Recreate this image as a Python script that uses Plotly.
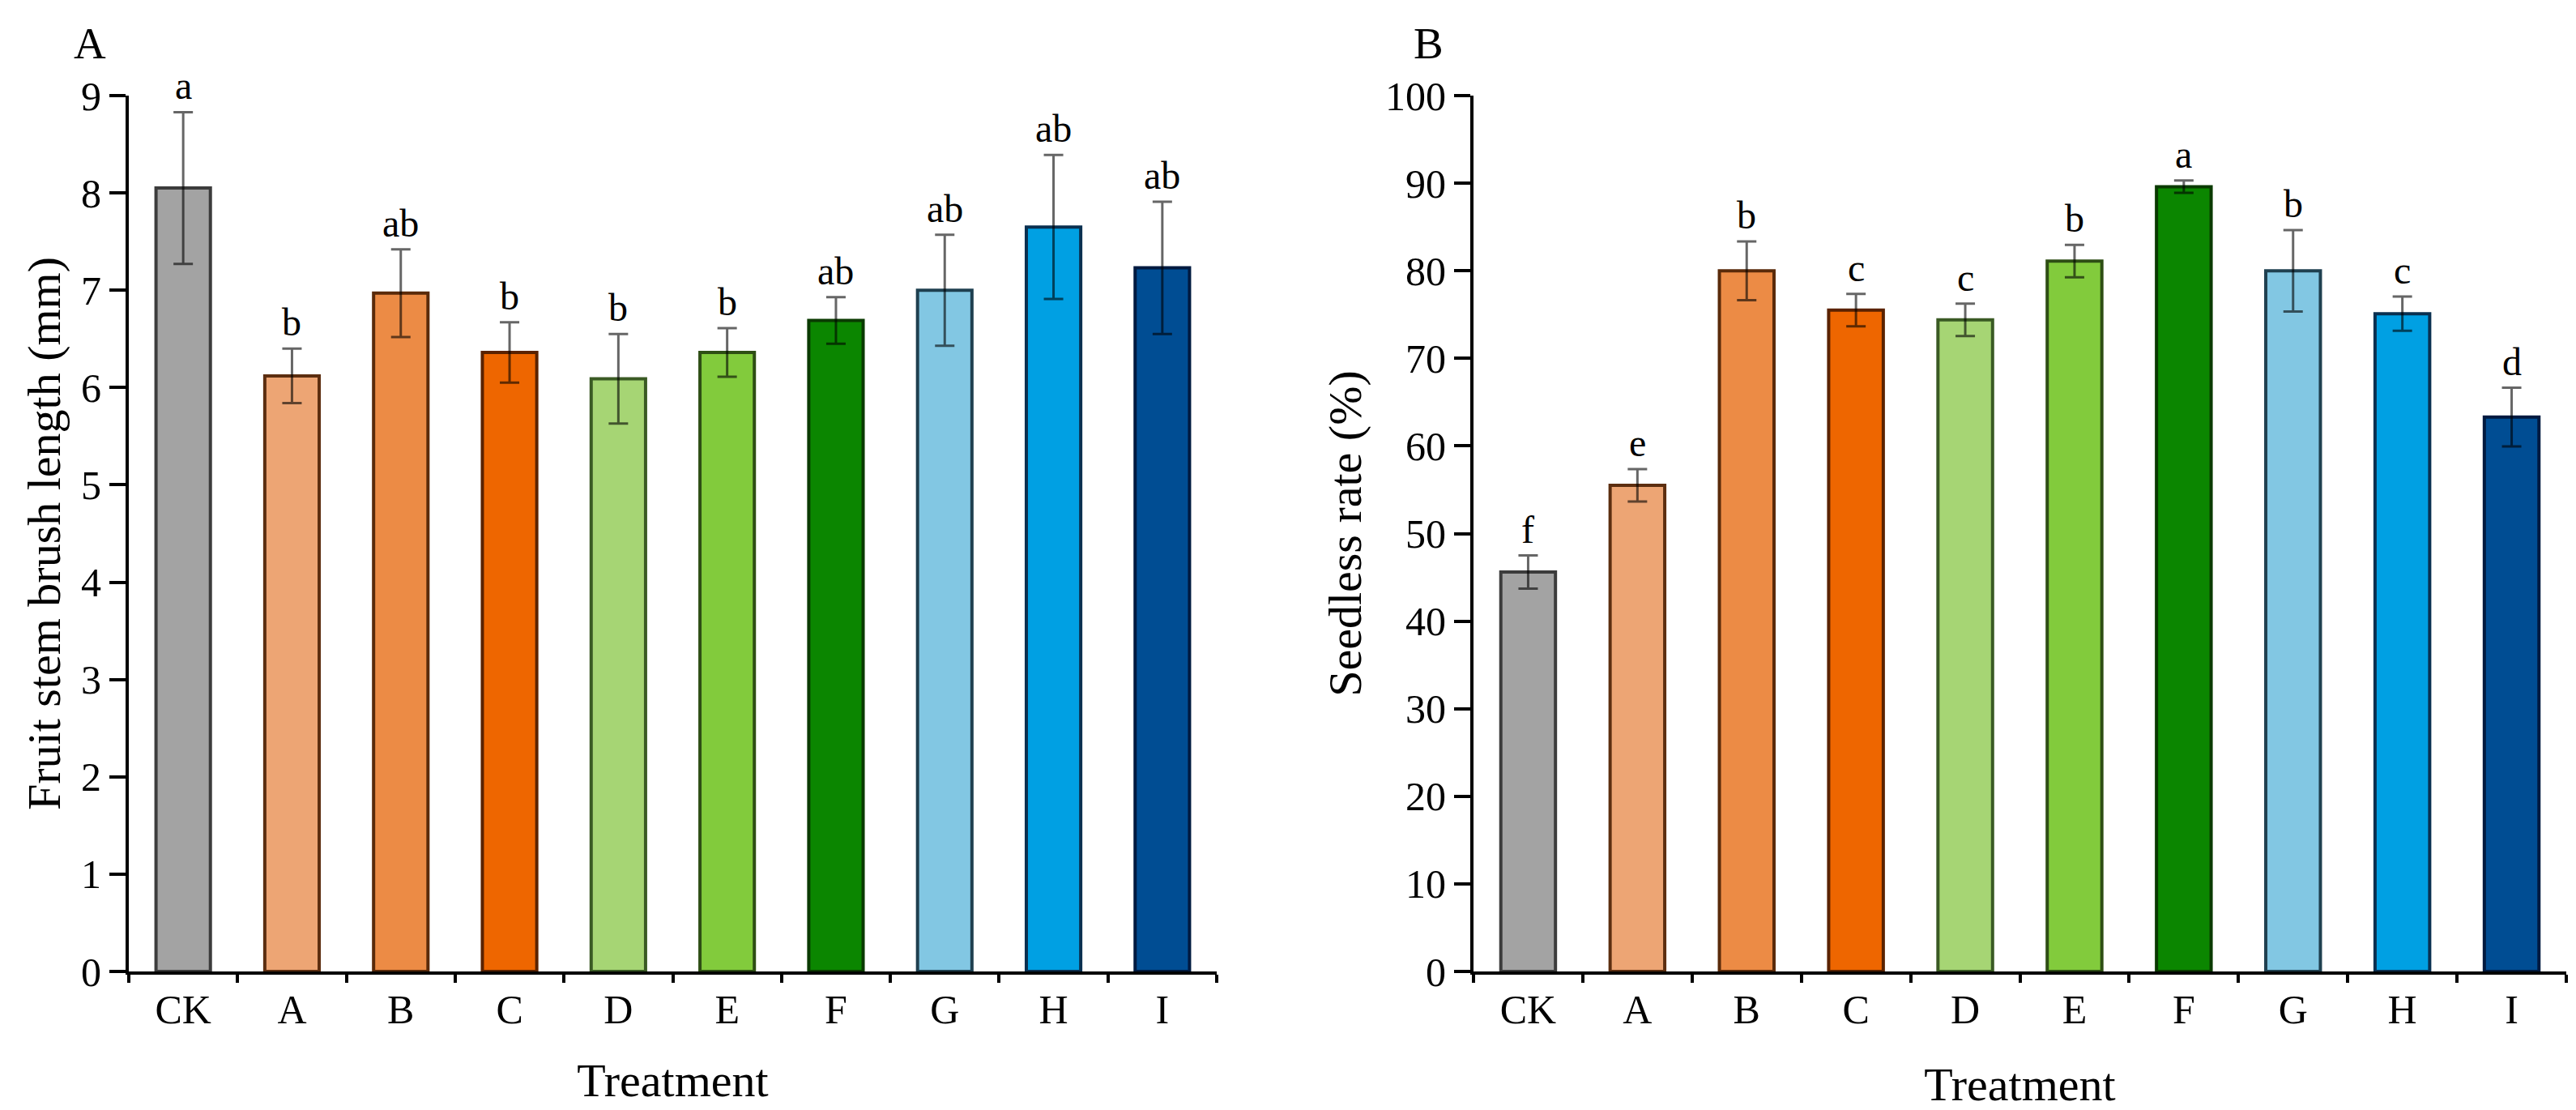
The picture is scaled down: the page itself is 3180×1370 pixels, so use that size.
import plotly.graph_objects as go

# ---------------- data ----------------
categories = ["CK", "A", "B", "C", "D", "E", "F", "G", "H", "I"]

length_mean = [8.05, 6.12, 6.97, 6.36, 6.09, 6.36, 6.69, 7.00, 7.65, 7.23]
length_sd = [0.78, 0.28, 0.45, 0.31, 0.46, 0.25, 0.24, 0.57, 0.74, 0.68]
length_letters = ["a", "b", "ab", "b", "b", "b", "ab", "ab", "ab", "ab"]

seedless_mean = [45.6, 55.5, 80.0, 75.5, 74.4, 81.1, 89.6, 80.0, 75.1, 63.3]
seedless_sd = [1.9, 1.85, 3.35, 1.85, 1.85, 1.85, 0.7, 4.65, 1.95, 3.35]
seedless_letters = ["f", "e", "b", "c", "c", "b", "a", "b", "c", "d"]

fill_colors = ["#A3A3A3", "#EDA574", "#EC8B45", "#EE6600", "#A6D574",
               "#82CB3C", "#0B8600", "#82C7E3", "#00A0E3", "#004D93"]
line_colors = ["#3C3C3C", "#5C2E10", "#5A2A0A", "#5A2200", "#3A5A24",
               "#2E4E14", "#0A3A00", "#1F4050", "#0A3050", "#001A40"]

# ---------------- layout geometry ----------------
W, H = 3180, 1370
ML, MR, MT, MB = 151, 20, 110, 179
PW = W - ML - MR
PH = H - MT - MB


def px_x(x):
    return (x - ML) / PW


def px_y(y):
    return (H - MB - y) / PH


FONT = "Liberation Serif, Times New Roman, serif"

fig = go.Figure()

fig.add_trace(go.Bar(
    x=categories, y=length_mean, width=0.5,
    marker=dict(color=fill_colors, line=dict(color=line_colors, width=4)),
    error_y=dict(type="data", array=length_sd, visible=True,
                 color="rgba(0,0,0,0.6)", thickness=3, width=12),
    xaxis="x", yaxis="y", showlegend=False,
))
fig.add_trace(go.Bar(
    x=categories, y=seedless_mean, width=0.5,
    marker=dict(color=fill_colors, line=dict(color=line_colors, width=4)),
    error_y=dict(type="data", array=seedless_sd, visible=True,
                 color="rgba(0,0,0,0.6)", thickness=3, width=12),
    xaxis="x2", yaxis="y2", showlegend=False,
))

annotations = []
for c, m, s, t in zip(categories, length_mean, length_sd, length_letters):
    annotations.append(dict(x=c, y=m + s, xref="x", yref="y", text=t,
                            showarrow=False, yanchor="bottom", yshift=4,
                            font=dict(family=FONT, size=48, color="black")))
for c, m, s, t in zip(categories, seedless_mean, seedless_sd, seedless_letters):
    annotations.append(dict(x=c, y=m + s, xref="x2", yref="y2", text=t,
                            showarrow=False, yanchor="bottom", yshift=4,
                            font=dict(family=FONT, size=48, color="black")))

annotations.append(dict(x=px_x(103), y=px_y(45), xref="paper", yref="paper",
                        text="A", showarrow=False, xanchor="center", yanchor="middle",
                        font=dict(family=FONT, size=55, color="black")))
annotations.append(dict(x=px_x(1755), y=px_y(45), xref="paper", yref="paper",
                        text="B", showarrow=False, xanchor="center", yanchor="middle",
                        font=dict(family=FONT, size=55, color="black")))

axis_common = dict(
    showline=True, linecolor="black", linewidth=4,
    ticks="outside", tickcolor="black", tickwidth=4,
    showgrid=False, zeroline=False,
    tickfont=dict(family=FONT, size=50, color="black"),
)

fig.update_layout(
    width=W, height=H,
    margin=dict(l=ML, r=MR, t=MT, b=MB),
    paper_bgcolor="white", plot_bgcolor="white",
    barmode="overlay",
    annotations=annotations,
    xaxis=dict(domain=[0, px_x(1494)], type="category", tickson="boundaries",
               ticklen=10, anchor="y",
               title=dict(text="Treatment", standoff=40,
                          font=dict(family=FONT, size=58, color="black")),
               **axis_common),
    yaxis=dict(domain=[0, 1], range=[0, 9], dtick=1, ticklen=20, anchor="x",
               title=dict(text="Fruit stem brush length (mm)", standoff=8,
                          font=dict(family=FONT, size=58, color="black")),
               **axis_common),
    xaxis2=dict(domain=[px_x(1811), px_x(3160)], type="category", tickson="boundaries",
                ticklen=10, anchor="y2",
                title=dict(text="Treatment", standoff=45,
                           font=dict(family=FONT, size=58, color="black")),
                **axis_common),
    yaxis2=dict(domain=[0, 1], range=[0, 100], dtick=10, ticklen=20, anchor="x2",
                title=dict(text="Seedless rate (%)", standoff=12,
                           font=dict(family=FONT, size=58, color="black")),
                **axis_common),
)

fig.write_html("out.html")
